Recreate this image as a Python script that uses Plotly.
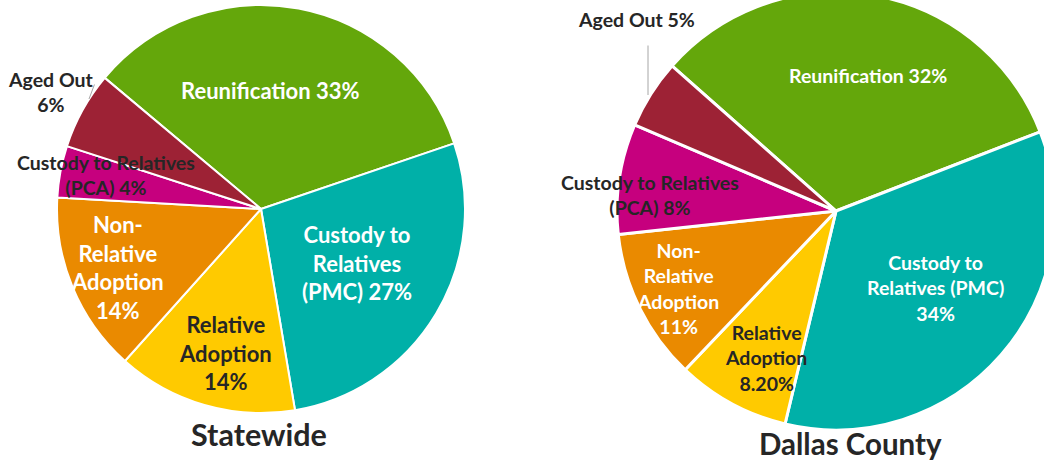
import plotly.graph_objects as go

# ---------------- data ----------------
categories = ["Reunification", "Custody to Relatives (PMC)", "Relative Adoption",
              "Non-Relative Adoption", "Custody to Relatives (PCA)", "Aged Out"]
statewide_pct = [33, 27, 14, 14, 4, 6]
dallas_pct = [32, 34, 8.2, 11, 8, 5]

statewide_labels = ["Reunification 33%", "Custody to<br>Relatives<br>(PMC) 27%",
                    "Relative<br>Adoption<br>14%", "Non-<br>Relative<br>Adoption<br>14%",
                    "Custody to Relatives<br>(PCA) 4%", "Aged Out<br>6%"]
dallas_labels = ["Reunification 32%", "Custody to<br>Relatives (PMC)<br>34%",
                 "Relative<br>Adoption<br>8.20%", "Non-<br>Relative<br>Adoption<br>11%",
                 "Custody to Relatives<br>(PCA) 8%", "Aged Out 5%"]
titles = ["Statewide", "Dallas County"]

colors = ["#64A70B", "#00B0A8", "#FFCA00", "#EA8A00", "#C6007E", "#9D2235"]

# ---------------- layout helpers ----------------
# The original chart is cropped at the top and right edge (Dallas pie runs off
# the picture), so the figure is slightly larger than the 1044x462 view and
# shifted up by OY pixels.
VW, VH = 1044, 462
OY = 9
W, H = 1058, VH + OY
DARK = "#262626"
FONT = "Lato"


def px2paper(px, py):
    return px / W, 1 - (py + OY) / H


def dom(cx, cy, r):
    x0, y1 = px2paper(cx - r, cy - r)
    x1, y0 = px2paper(cx + r, cy + r)
    return dict(x=[max(0, x0), min(1, x1)], y=[max(0, y0), min(1, y1)])


fig = go.Figure()
fig.add_trace(go.Pie(labels=categories, values=statewide_pct, sort=False,
                     direction="clockwise", rotation=310,
                     marker=dict(colors=colors, line=dict(color="white", width=2)),
                     textinfo="none", hoverinfo="label+percent",
                     domain=dom(261, 209, 204)))
fig.add_trace(go.Pie(labels=categories, values=dallas_pct, sort=False,
                     direction="clockwise", rotation=311.5,
                     marker=dict(colors=colors, line=dict(color="white", width=3)),
                     textinfo="none", hoverinfo="label+percent",
                     domain=dom(836, 211, 219)))

# label placement (pixels in the visible picture) and styles
left_pos = [(270, 91), (357, 263), (225, 353), (117, 267), (106, 175), (51, 92)]
left_size = [22, 22, 22, 22, 19.5, 19.5]
right_pos = [(868, 76), (935, 288), (766, 358), (678, 288), (650, 195), (636, 20)]
right_size = [19.5, 19.5, 19.5, 19.5, 19.5, 19.5]
text_col = ["white", "white", DARK, "white", DARK, DARK]

annos = []
for labels, pos, sizes in [(statewide_labels, left_pos, left_size),
                           (dallas_labels, right_pos, right_size)]:
    for lab, (px, py), sz, col in zip(labels, pos, sizes, text_col):
        x, y = px2paper(px, py)
        annos.append(dict(text=lab, x=x, y=y, xref="paper", yref="paper",
                          showarrow=False, xanchor="center", yanchor="middle",
                          font=dict(family=FONT, size=sz, color=col, weight="bold")))

# titles
for t, (px, py), sz in zip(titles, [(259, 434), (850, 443)], [30.5, 29.5]):
    x, y = px2paper(px, py)
    annos.append(dict(text=t, x=x, y=y, xref="paper", yref="paper",
                      showarrow=False, xanchor="center", yanchor="middle",
                      font=dict(family=FONT, size=sz, color=DARK, weight="bold")))

# leader lines
for (tx, ty), (hx, hy) in [((648, 44), (648, 95)), ((95, 83), (89, 99))]:
    x, y = px2paper(hx, hy)
    annos.append(dict(text="", x=x, y=y, xref="paper", yref="paper",
                      ax=tx - hx, ay=ty - hy, showarrow=True, arrowhead=0,
                      arrowwidth=1, arrowcolor="#A6A6A6"))

fig.update_layout(width=W, height=H, margin=dict(l=0, r=0, t=0, b=0),
                  paper_bgcolor="white", plot_bgcolor="white", showlegend=False,
                  annotations=annos)

fig.write_html("out.html", config={"displayModeBar": False},
               post_script=("document.body.style.margin='-%dpx 0 0 0';"
                            "document.body.style.overflow='hidden';" % OY))
